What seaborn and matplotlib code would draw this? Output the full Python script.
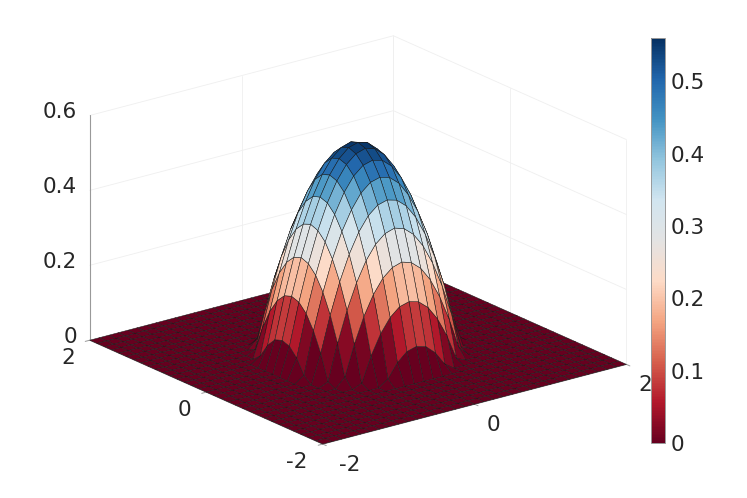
import numpy as np
import matplotlib
matplotlib.use('Agg')
import matplotlib.pyplot as plt
import seaborn as sns
from mpl_toolkits.mplot3d import proj3d

# grid of the surface, 33 points per side
grid_x = [-2.0, -1.875, -1.75, -1.625, -1.5, -1.375, -1.25, -1.125, -1.0, -0.875, -0.75, -0.625, -0.5, -0.375, -0.25, -0.125, 0.0,
          0.125, 0.25, 0.375, 0.5, 0.625, 0.75, 0.875, 1.0, 1.125, 1.25, 1.375, 1.5, 1.625, 1.75, 1.875, 2.0]

# heights, centre of the bump outwards (bump is symmetric)
quarter_z = [[.560, .553, .530, .493, .441, .375, .293, .196, .085],
             [.553, .545, .523, .486, .434, .367, .285, .189, .078],
             [.530, .523, .501, .464, .412, .345, .263, .167, .055],
             [.493, .486, .464, .426, .375, .308, .226, .130, .018],
             [.441, .434, .412, .375, .323, .256, .174, .078, 0],
             [.375, .367, .345, .308, .256, .189, .107, .011, 0],
             [.293, .285, .263, .226, .174, .107, .026, 0, 0],
             [.196, .189, .167, .130, .078, .011, 0, 0, 0],
             [.085, .078, .055, .018, 0, 0, 0, 0, 0]]

xy_ticks = [-2, 0, 2]
z_ticks = [0, 0.2, 0.4, 0.6]
z_tick_labels = ['0', '0.2', '0.4', '0.6']
cbar_ticks = [0, 0.1, 0.2, 0.3, 0.4, 0.5]
cbar_labels = ['0', '0.1', '0.2', '0.3', '0.4', '0.5']
z_max = 0.56
cmap_colors = ['#67001f', '#b2182b', '#d6604d', '#f4a582', '#fddbc7', '#e3e3e3',
               '#d1e5f0', '#92c5de', '#4393c3', '#2166ac', '#053061']

sns.set_theme(style='white')
plt.rcParams['font.family'] = ['DejaVu Sans']
text_col = '#262626'
grid_col = '#efefef'
axis_col = '#999999'

# mirror the quarter to the whole bump and pad with the flat floor
q = np.array(quarter_z)
top = np.hstack([q[:0:-1, :0:-1], q[:0:-1, :]])
bottom = np.hstack([q[:, :0:-1], q])
bump = np.vstack([top, bottom])
Z = np.pad(bump, 8)
X, Y = np.meshgrid(grid_x, grid_x)

cmap = sns.blend_palette(cmap_colors, as_cmap=True)
norm = plt.Normalize(0, z_max)

fig = plt.figure(figsize=(7.47, 4.98), dpi=100)
# axes larger than the figure so the square 3d box does not clip the floor
ax = fig.add_axes([-25.5 / 747, -125.5 / 498, 1, 747 / 498], projection='3d', proj_type='ortho')
ax.patch.set_alpha(0)
ax.computed_zorder = False
ax.view_init(elev=20, azim=-127.5)
ax.set_box_aspect((1, 1, 0.625), zoom=0.769)
ax.set_xlim(-2, 2)
ax.set_ylim(-2, 2)
ax.set_zlim(0, 0.6)
ax.set_axis_off()


def tick_label(x, y, z, s, dx, dy, ha='center'):
    # label at a pixel offset from the projected tick position
    px, py, _ = proj3d.proj_transform(x, y, z, ax.get_proj())
    ax.annotate(s, xy=(px, py), xytext=(dx, dy), textcoords='offset pixels', ha=ha, va='center',
                fontsize=15.5, color=text_col, zorder=3, annotation_clip=False)


# back walls
for z in z_ticks:
    ax.plot([-2, 2], [2, 2], [z, z], color=grid_col, lw=0.6, zorder=1)
    ax.plot([2, 2], [2, -2], [z, z], color=grid_col, lw=0.6, zorder=1)
for t in xy_ticks:
    ax.plot([t, t], [2, 2], [0, 0.6], color=grid_col, lw=0.6, zorder=1)
    ax.plot([2, 2], [t, t], [0, 0.6], color=grid_col, lw=0.6, zorder=1)
ax.plot([-2, -2], [2, 2], [0, 0.6], color=axis_col, lw=0.8, zorder=1)

ax.plot_surface(X, Y, Z, rstride=1, cstride=1, facecolors=cmap(norm(Z)), shade=False,
                edgecolor='#1a1a1a', linewidth=0.35, antialiased=True, zorder=2)

# axis edges, ticks and labels
ax.plot([-2, 2], [-2, -2], [0, 0], color=axis_col, lw=0.8, zorder=1)
ax.plot([-2, -2], [-2, 2], [0, 0], color=axis_col, lw=0.8, zorder=1)
for t in xy_ticks:
    ax.plot([t, t], [-2, -2.06], [0, 0], color=axis_col, lw=0.7, zorder=1)
    ax.plot([-2, -2.06], [t, t], [0, 0], color=axis_col, lw=0.7, zorder=1)
    tick_label(t, -2, 0, str(t), 27 if t == -2 else 19, -21)
    tick_label(-2, t, 0, str(t), -26 if t == -2 else -21.5, -18)
for z, lab in zip(z_ticks, z_tick_labels):
    tick_label(-2, 2, z, lab, -13, 3, ha='right')

cax = fig.add_axes([651 / 747, 1 - 443 / 498, 14 / 747, 405 / 498])
sm = plt.cm.ScalarMappable(norm=norm, cmap=cmap)
cbar = fig.colorbar(sm, cax=cax)
cbar.set_ticks(cbar_ticks, labels=cbar_labels)
cbar.ax.tick_params(direction='in', length=4, width=0.6, color=axis_col, labelsize=15.5, labelcolor=text_col, pad=4)
cbar.outline.set_edgecolor(axis_col)
cbar.outline.set_linewidth(0.7)

fig.savefig('out.png', dpi=100)
